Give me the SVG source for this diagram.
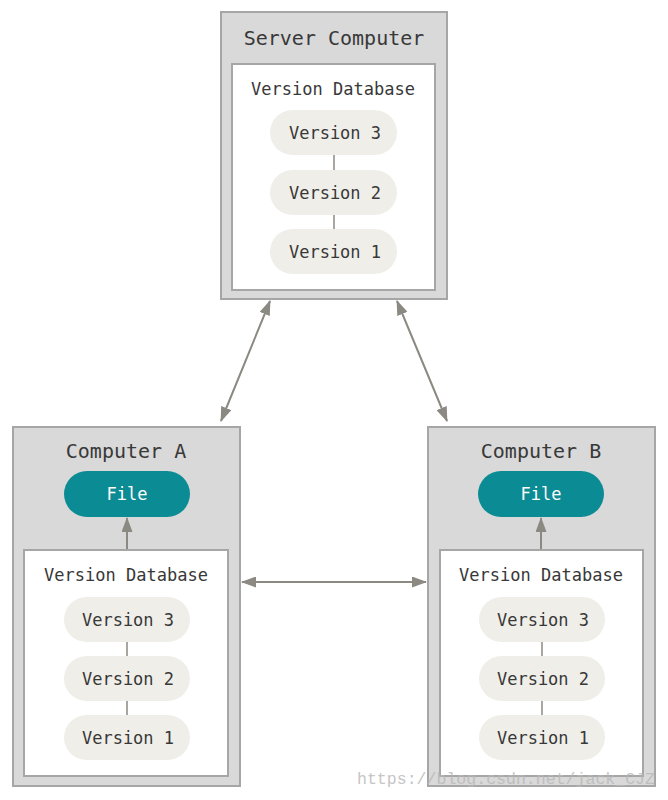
<svg xmlns="http://www.w3.org/2000/svg" width="668" height="800" viewBox="0 0 668 800">
<defs>
<marker id="ah" viewBox="0 0 15 11" refX="14" refY="5.5" markerWidth="15" markerHeight="11" markerUnits="userSpaceOnUse" orient="auto-start-reverse">
<path d="M0,0 L15,5.5 L0,11 z" fill="#8c8983"/>
</marker>
<style>
.outer{fill:#d9d9d9;stroke:#a6a6a6;stroke-width:2}
.inner{fill:#ffffff;stroke:#a6a6a6;stroke-width:2}
.pill{fill:#efeee9}
.file{fill:#0b8b94}
.t{font-family:"DejaVu Sans Mono","Liberation Mono",monospace;fill:#383838;text-anchor:middle}
.title{font-size:20px}
.lbl{font-size:17px}
.ft{fill:#ffffff}
.link{stroke:#8c8983;stroke-width:1.5}
.conn{stroke:#8c8983;stroke-width:2;fill:none}
.wm{font-family:"Liberation Mono",monospace;font-size:16.5px;fill:#b8b8b8;opacity:0.8}
</style>
</defs>

<g id="server">
<rect class="outer" x="221" y="12" width="226" height="287"/>
<text class="t title" x="334" y="45">Server Computer</text>
<rect class="inner" x="232" y="64" width="203" height="226"/>
<text class="t lbl" x="333" y="95">Version Database</text>
<line class="link" x1="334" y1="155" x2="334" y2="170"/>
<line class="link" x1="334" y1="215" x2="334" y2="229"/>
<rect class="pill" x="270" y="110" width="127" height="45" rx="22.5"/>
<text class="t lbl" x="335" y="138.5">Version 3</text>
<rect class="pill" x="270" y="170" width="127" height="45" rx="22.5"/>
<text class="t lbl" x="335" y="198.5">Version 2</text>
<rect class="pill" x="270" y="229" width="127" height="45" rx="22.5"/>
<text class="t lbl" x="335" y="257.5">Version 1</text>
</g>

<g id="computerA">
<rect class="outer" x="13" y="427" width="227" height="359"/>
<text class="t title" x="126" y="458">Computer A</text>
<rect class="file" x="64" y="471" width="126" height="46" rx="23"/>
<text class="t lbl ft" x="127" y="500">File</text>
<rect class="inner" x="24" y="550" width="204" height="226"/>
<text class="t lbl" x="126" y="581">Version Database</text>
<line class="link" x1="127" y1="642" x2="127" y2="656"/>
<line class="link" x1="127" y1="701" x2="127" y2="715"/>
<rect class="pill" x="64" y="597" width="126" height="45" rx="22.5"/>
<text class="t lbl" x="128" y="625.5">Version 3</text>
<rect class="pill" x="64" y="656" width="126" height="45" rx="22.5"/>
<text class="t lbl" x="128" y="684.5">Version 2</text>
<rect class="pill" x="64" y="715" width="126" height="45" rx="22.5"/>
<text class="t lbl" x="128" y="743.5">Version 1</text>
</g>

<g id="computerB">
<rect class="outer" x="428" y="427" width="227" height="359"/>
<text class="t title" x="541" y="458">Computer B</text>
<rect class="file" x="478" y="471" width="126" height="46" rx="23"/>
<text class="t lbl ft" x="541" y="500">File</text>
<rect class="inner" x="440" y="550" width="203" height="226"/>
<text class="t lbl" x="541" y="581">Version Database</text>
<line class="link" x1="542" y1="642" x2="542" y2="656"/>
<line class="link" x1="542" y1="701" x2="542" y2="715"/>
<rect class="pill" x="479" y="597" width="126" height="45" rx="22.5"/>
<text class="t lbl" x="543" y="625.5">Version 3</text>
<rect class="pill" x="479" y="656" width="126" height="45" rx="22.5"/>
<text class="t lbl" x="543" y="684.5">Version 2</text>
<rect class="pill" x="479" y="715" width="126" height="45" rx="22.5"/>
<text class="t lbl" x="543" y="743.5">Version 1</text>
</g>

<g id="connectors">
<line class="conn" x1="127" y1="549" x2="127" y2="518" marker-end="url(#ah)"/>
<line class="conn" x1="541" y1="549" x2="541" y2="518" marker-end="url(#ah)"/>
<line class="conn" x1="242" y1="582" x2="426" y2="582" marker-start="url(#ah)" marker-end="url(#ah)"/>
<line class="conn" x1="270" y1="301" x2="221" y2="421" marker-start="url(#ah)" marker-end="url(#ah)"/>
<line class="conn" x1="397" y1="301" x2="447" y2="421" marker-start="url(#ah)" marker-end="url(#ah)"/>
</g>

<text class="wm" x="357" y="784" textLength="298" lengthAdjust="spacingAndGlyphs">https://blog.csdn.net/jack_CJZ</text>
</svg>
